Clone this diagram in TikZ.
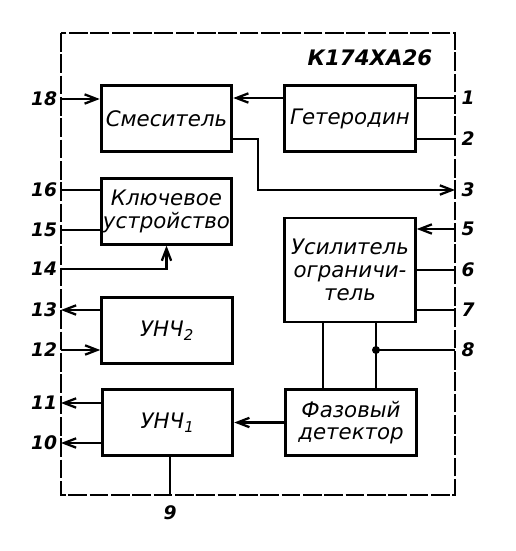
\documentclass[tikz,border=0pt]{standalone}
\usepackage{fontspec}
\setmainfont{DejaVu Sans}
\usetikzlibrary{arrows.meta,positioning}

\begin{document}
\begin{tikzpicture}[x=0.75pt,y=-0.75pt,
		block/.style={draw,line width=2.2pt,minimum width=98pt,minimum height=49pt,inner sep=1pt,align=center,font=\itshape\fontsize{16}{17}\selectfont},
		wire/.style={line width=1.7pt},
		arr/.style={wire,-{Straight Barb[length=9pt,width=7pt]}},
		pinno/.style={font=\bfseries\itshape\fontsize{14}{14}\selectfont}]
		\useasboundingbox (0,0) rectangle (516,551);
		
		% chip outline
		\draw[line width=1.6pt,dash pattern=on 14pt off 2pt] (61,33) rectangle (455,495);
		\node[font=\bfseries\itshape\fontsize{16}{16}\selectfont]	(chip)	at (370,58)	{К174ХА26};
		
		% blocks
		\node[block]						(mix)	at (166.5,118.5)	{Смеситель};
		\node[block]						(het)	at (350,118.5)		{Гетеродин};
		\node[block]						(key)	at (166.5,211.5)	{Ключевое\\устройство};
		\node[block,minimum height=78pt]	(amp)	at (350,270)		{Усилитель\\ограничи-\\тель};
		\node[block,minimum height=50pt]	(unch2)	at (167,330.5)		{УНЧ\textsubscript{2}};
		\node[block]						(unch1)	at (167.5,422.5)	{УНЧ\textsubscript{1}};
		\node[block,minimum height=50pt]	(phase)	at (351,422.5)		{Фазовый\\детектор};
		
		% pins on the outline
		\coordinate (p18) at (61,99);
		\coordinate (p16) at (61,190);
		\coordinate (p15) at (61,230);
		\coordinate (p14) at (61,269);
		\coordinate (p13) at (61,310);
		\coordinate (p12) at (61,350);
		\coordinate (p11) at (61,403);
		\coordinate (p10) at (61,443);
		\coordinate (p9)  at (170,495);
		\coordinate (p1)  at (455,98);
		\coordinate (p2)  at (455,139);
		\coordinate (p3)  at (455,190);
		\coordinate (p5)  at (455,229);
		\coordinate (p6)  at (455,270);
		\coordinate (p7)  at (455,310);
		\coordinate (p8)  at (455,350);
		\coordinate (bend) at (258,190);
		\coordinate (jw)  at (323,350);
		\coordinate (jn)  at (376,350);
		
		% pin numbers
		\foreach \n/\y in {18/99,16/190,15/230,14/269,13/310,12/350,11/403,10/443}
			\node[pinno] (n\n) at (44,\y) {\n};
		\foreach \n/\y in {1/98,2/139,3/190,5/229,6/270,7/310,8/350}
			\node[pinno] (n\n) at (468,\y) {\n};
		\node[pinno] (n9) at (170,513) {9};
		
		% connections
		\draw[arr]	(p18) -- (mix.west |- p18);
		\draw[arr]	(het.west |- p1) -- (mix.east |- p1);
		\draw[wire]	(het.east |- p1) -- (p1);
		\draw[wire]	(het.east |- p2) -- (p2);
		\draw[arr]	(mix.east |- p2) -| (bend) -- (p3);
		\draw[wire]	(p16) -- (key.west |- p16);
		\draw[wire]	(p15) -- (key.west |- p15);
		\draw[arr]	(p14) -| (key.south);
		\draw[arr]	(p5) -- (amp.east |- p5);
		\draw[wire]	(amp.east |- p6) -- (p6);
		\draw[wire]	(amp.east |- p7) -- (p7);
		\draw[wire]	(p8) -- (jn);
		\draw[wire]	(amp.south -| jn) -- (phase.north -| jn);
		\draw[wire]	(amp.south -| jw) -- (phase.north -| jw);
		\fill		(jn) circle (3pt);
		\draw[arr]	(unch2.west |- p13) -- (p13);
		\draw[arr]	(p12) -- (unch2.west |- p12);
		\draw[arr]	(unch1.west |- p11) -- (p11);
		\draw[arr]	(unch1.west |- p10) -- (p10);
		\draw[arr]	(phase.west) -- (unch1.east);
		\draw[wire]	(unch1.south -| p9) -- (p9);
	\end{tikzpicture}
\end{document}
